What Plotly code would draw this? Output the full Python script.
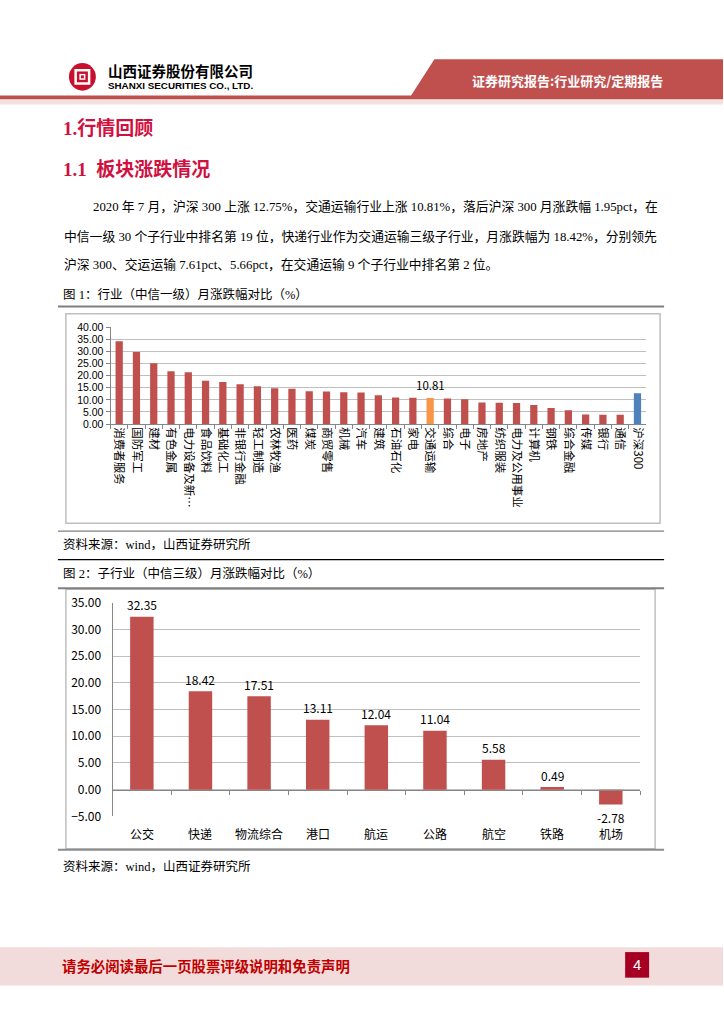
import plotly.graph_objects as go

# ---------------- data ----------------
cats1 = ["消费者服务", "国防军工", "建材", "有色金属", "电力设备及新…", "食品饮料", "基础化工",
         "非银行金融", "轻工制造", "农林牧渔", "医药", "煤炭", "商贸零售", "机械", "汽车", "建筑",
         "石油石化", "家电", "交通运输", "综合", "电子", "房地产", "纺织服装", "电力及公用事业",
         "计算机", "钢铁", "综合金融", "传媒", "银行", "通信", "沪深300"]
vals1 = [34.2, 29.8, 25.1, 21.8, 21.4, 17.9, 17.4, 16.4, 15.6, 14.8, 14.6, 13.6, 13.4, 13.1,
         13.0, 11.9, 11.0, 10.9, 10.81, 10.6, 10.2, 8.95, 8.8, 8.7, 7.9, 6.6, 5.7, 3.9, 3.8, 3.8, 12.75]

cats2 = ["公交", "快递", "物流综合", "港口", "航运", "公路", "航空", "铁路", "机场"]
vals2 = [32.35, 18.42, 17.51, 13.11, 12.04, 11.04, 5.58, 0.49, -2.78]

yticks1 = [0, 5, 10, 15, 20, 25, 30, 35, 40]
yticks2 = [-5, 0, 5, 10, 15, 20, 25, 30, 35]

# ---------------- helpers ----------------
W, H = 724, 1024
def X(px):
    return px / W
def Y(py):
    return 1 - py / H

RED = "#C0504D"
ORANGE = "#F79646"
BLUE = "#4F81BD"
TITLE_RED = "#D01040"
CJK = "Noto Sans CJK SC"
SERIF = "Liberation Serif, Noto Sans CJK SC"
ARIAL = "Liberation Sans"

HILITE = "交通运输"
BENCH = "沪深300"
colors1 = [ORANGE if c == HILITE else BLUE if c == BENCH else RED for c in cats1]

fig = go.Figure()
fig.add_trace(go.Bar(x=cats1, y=vals1, marker=dict(color=colors1, line=dict(width=0)),
                     width=0.42, xaxis="x", yaxis="y", showlegend=False, hoverinfo="x+y"))
fig.add_trace(go.Bar(x=cats2, y=vals2, marker=dict(color=RED, line=dict(width=0)),
                     width=0.4, xaxis="x2", yaxis="y2", showlegend=False, cliponaxis=False,
                     hoverinfo="x+y"))

# chart 1 geometry
d1x = [X(110.7), X(647)]
d1y = [Y(421), Y(322.7)]
# chart 2 geometry
d2x = [X(112.7), X(641)]
d2y = [Y(820), Y(602.7)]
r2 = [-5, 35]
zero_pos2 = d2y[0] + (0 - r2[0]) / (r2[1] - r2[0]) * (d2y[1] - d2y[0])

GRID = "#BFBFBF"
AX = "#868686"

fig.update_layout(
    width=W, height=H, margin=dict(l=0, r=0, t=0, b=0),
    paper_bgcolor="white", plot_bgcolor="white",
    bargap=0.58,
    xaxis=dict(domain=d1x, anchor="y", type="category", tickangle=90,
               tickfont=dict(family=CJK, size=11.5, color="#000"),
               showline=True, linecolor=AX, linewidth=1, ticks="outside", ticklen=4,
               tickcolor=AX, tickson="boundaries", showgrid=False),
    yaxis=dict(domain=d1y, anchor="x", range=[0, 40], tickvals=yticks1, tickformat=".2f",
               tickfont=dict(family=ARIAL, size=10.5, color="#000"),
               showline=True, linecolor=AX, linewidth=1, ticks="outside", ticklen=4, tickcolor=AX,
               showgrid=True, gridcolor=GRID, gridwidth=1, zeroline=False),
    xaxis2=dict(domain=d2x, anchor="free", position=zero_pos2, type="category",
                showticklabels=False, showline=True, linecolor=AX, linewidth=1,
                ticks="outside", ticklen=4, tickcolor=AX, tickson="boundaries", showgrid=False),
    yaxis2=dict(domain=d2y, anchor="x2", range=r2, tickvals=yticks2, tickformat=".2f",
                tickfont=dict(family=CJK, size=12, color="#000"),
                showline=True, linecolor=AX, linewidth=1, ticks="", ticklabelstandoff=8,
                showgrid=True, gridcolor=GRID, gridwidth=1, zeroline=False),
)

shapes = []
ann = []

# ---- header ----
shapes.append(dict(type="path", xref="paper", yref="paper", line=dict(width=0), fillcolor=RED,
                   path=f"M {X(435)},{Y(50)} L {X(724)},{Y(50)} L {X(724)},{Y(88)} L {X(411)},{Y(88)} Z"))
shapes.append(dict(type="rect", xref="paper", yref="paper", x0=0, x1=1, y0=Y(91), y1=Y(87),
                   fillcolor=RED, line=dict(width=0)))
shapes.append(dict(type="rect", xref="paper", yref="paper", x0=0, x1=1, y0=Y(96), y1=Y(91),
                   fillcolor="#F4E0DF", line=dict(width=0)))
# logo
LOGO = "#C8102E"
shapes.append(dict(type="circle", xref="paper", yref="paper", x0=X(69), x1=X(96), y0=Y(82), y1=Y(54),
                   fillcolor=LOGO, line=dict(width=0)))
shapes.append(dict(type="rect", xref="paper", yref="paper", x0=X(74.5), x1=X(90.5), y0=Y(76), y1=Y(60),
                   fillcolor="white", line=dict(width=0)))
shapes.append(dict(type="rect", xref="paper", yref="paper", x0=X(77), x1=X(88), y0=Y(73.5), y1=Y(62.5),
                   fillcolor=LOGO, line=dict(width=0)))
shapes.append(dict(type="rect", xref="paper", yref="paper", x0=X(79.5), x1=X(85.5), y0=Y(71), y1=Y(65),
                   fillcolor="white", line=dict(width=0)))
shapes.append(dict(type="rect", xref="paper", yref="paper", x0=X(81), x1=X(84), y0=Y(69.5), y1=Y(66.5),
                   fillcolor=LOGO, line=dict(width=0)))

ann.append(dict(text="<b>山西证券股份有限公司</b>", x=X(106), y=Y(62), xanchor="left", yanchor="middle",
                font=dict(family=CJK, size=14.5, color="#000")))
ann.append(dict(text="<b>SHANXI SECURITIES CO., LTD.</b>", x=X(106), y=Y(77), xanchor="left",
                yanchor="middle", font=dict(family=ARIAL, size=9.8, color="#000")))
ann.append(dict(text="<b>证券研究报告:行业研究/定期报告</b>", x=X(568), y=Y(72), xanchor="center",
                yanchor="middle", font=dict(family=CJK, size=13, color="white")))

# ---- titles ----
ann.append(dict(text="<b>1.行情回顾</b>", x=X(61), y=Y(121), xanchor="left", yanchor="middle",
                font=dict(family=SERIF, size=19, color=TITLE_RED)))
ann.append(dict(text="<b>1.1  板块涨跌情况</b>", x=X(61), y=Y(162), xanchor="left", yanchor="middle",
                font=dict(family=SERIF, size=19, color=TITLE_RED)))

para = [
    (91, 200, "2020 年 7 月，沪深 300 上涨 12.75%，交通运输行业上涨 10.81%，落后沪深 300 月涨跌幅 1.95pct，在"),
    (62, 230, "中信一级 30 个子行业中排名第 19 位，快递行业作为交通运输三级子行业，月涨跌幅为 18.42%，分别领先"),
    (62, 259, "沪深 300、交运运输 7.61pct、5.66pct，在交通运输 9 个子行业中排名第 2 位。"),
]
for px_, py_, t in para:
    ann.append(dict(text=t, x=X(px_), y=Y(py_), xanchor="left", yanchor="middle",
                    font=dict(family=SERIF, size=12.8, color="#000")))

ann.append(dict(text="图 1：行业（中信一级）月涨跌幅对比（%）", x=X(61), y=Y(289), xanchor="left",
                yanchor="middle", font=dict(family=SERIF, size=12.5, color="#000")))
ann.append(dict(text="资料来源：wind，山西证券研究所", x=X(61), y=Y(544), xanchor="left",
                yanchor="middle", font=dict(family=SERIF, size=12.5, color="#000")))
ann.append(dict(text="图 2：子行业（中信三级）月涨跌幅对比（%）", x=X(61), y=Y(573), xanchor="left",
                yanchor="middle", font=dict(family=SERIF, size=12.5, color="#000")))
ann.append(dict(text="资料来源：wind，山西证券研究所", x=X(61), y=Y(871), xanchor="left",
                yanchor="middle", font=dict(family=SERIF, size=12.5, color="#000")))

# separator lines
for yy, col, w in [(301.5, "#7F7F7F", 2), (530, "#7F7F7F", 1.2), (559, "#000000", 1.2),
                   (588, "#7F7F7F", 2), (854, "#8C8C8C", 2)]:
    shapes.append(dict(type="line", xref="paper", yref="paper", x0=X(58), x1=X(665), y0=Y(yy), y1=Y(yy),
                       line=dict(color=col, width=w)))
# chart boxes
shapes.append(dict(type="rect", xref="paper", yref="paper", x0=X(66), x1=X(661), y0=Y(522), y1=Y(309),
                   line=dict(color="#BFBFBF", width=1.5), fillcolor="rgba(0,0,0,0)", layer="below"))
shapes.append(dict(type="rect", xref="paper", yref="paper", x0=X(66), x1=X(656), y0=Y(853), y1=Y(589),
                   line=dict(color="#BFBFBF", width=1.5), fillcolor="rgba(0,0,0,0)", layer="below"))

# chart 1 data label (highlighted industry)
for c, v in zip(cats1, vals1):
    if c == HILITE:
        ann.append(dict(text=f"{v:.2f}", x=c, y=v, xref="x", yref="y", showarrow=False, yshift=13,
                        xanchor="center", yanchor="middle", font=dict(family=CJK, size=11.5, color="#000")))

# chart 2 data labels and category labels
for c, v in zip(cats2, vals2):
    ann.append(dict(text=f"{v:.2f}", x=c, y=v, xref="x2", yref="y2", showarrow=False,
                    yshift=12 if v >= 0 else -13, xanchor="center", yanchor="middle",
                    font=dict(family=CJK, size=12, color="#000")))
    ann.append(dict(text=c, x=c, y=r2[0], xref="x2", yref="y2", showarrow=False, yshift=-17,
                    xanchor="center", yanchor="middle", font=dict(family=CJK, size=12, color="#000")))

# ---- footer ----
shapes.append(dict(type="rect", xref="paper", yref="paper", x0=0, x1=1, y0=Y(992), y1=Y(953),
                   fillcolor="#F2DCDB", line=dict(width=0)))
shapes.append(dict(type="rect", xref="paper", yref="paper", x0=X(626), x1=X(650), y0=Y(984), y1=Y(958),
                   fillcolor="#A50021", line=dict(width=0)))
ann.append(dict(text="<b>请务必阅读最后一页股票评级说明和免责声明</b>", x=X(60), y=Y(972), xanchor="left",
                yanchor="middle", font=dict(family=CJK, size=14.4, color="#C00000")))
ann.append(dict(text="4", x=X(638), y=Y(971), xanchor="center", yanchor="middle",
                font=dict(family=ARIAL, size=15, color="white")))

for a in ann:
    a.setdefault("xref", "paper")
    a.setdefault("yref", "paper")
    a.setdefault("showarrow", False)

fig.update_layout(shapes=shapes, annotations=ann)

fig.write_html("out.html", config={"displayModeBar": False},
               post_script="document.body.style.margin='0px';document.body.style.overflow='hidden';")
